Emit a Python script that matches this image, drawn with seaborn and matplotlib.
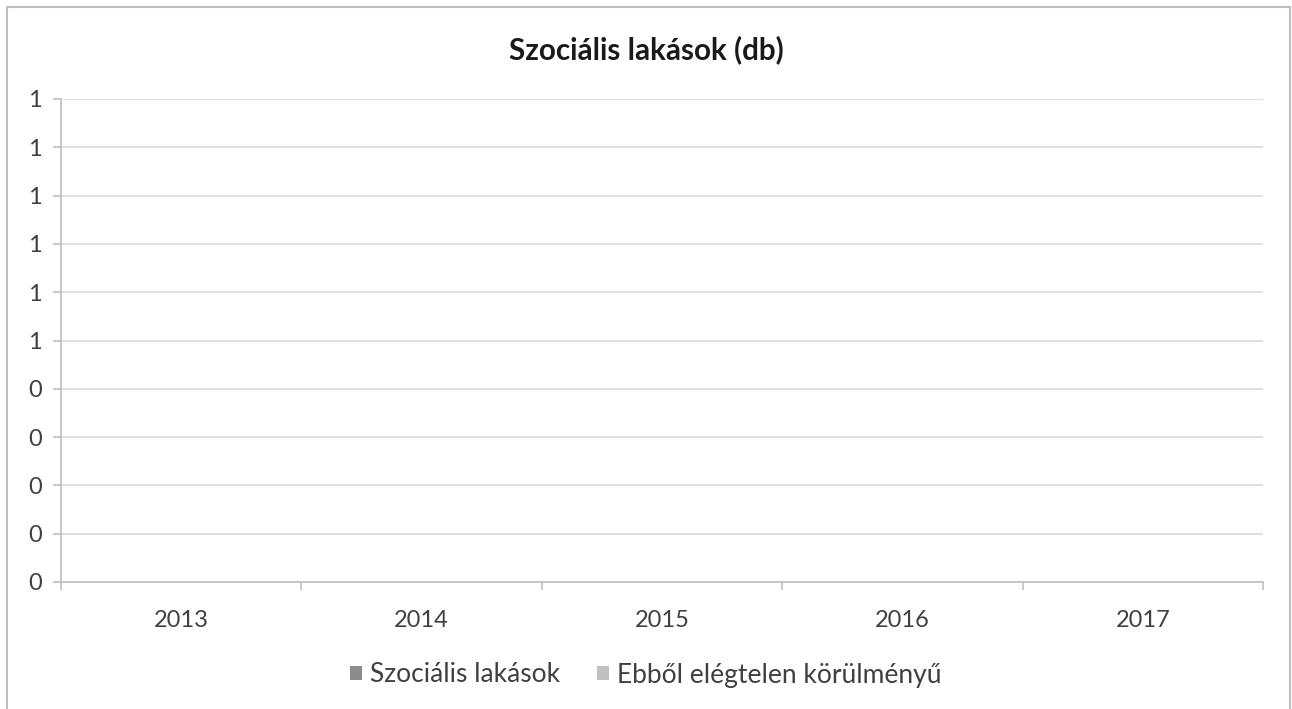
"""Empty Excel-style column chart: Szociális lakások (db)."""

import matplotlib.pyplot as plt
import numpy as np
import pandas as pd
import seaborn as sns
from matplotlib.patches import Rectangle
from matplotlib.ticker import FixedLocator, FuncFormatter

YEARS = ["2013", "2014", "2015", "2016", "2017"]
SERIES = ["Szociális lakások", "Ebből elégtelen körülményű"]
SOCIAL_FLATS = [0, 0, 0, 0, 0]
POOR_CONDITION = [0, 0, 0, 0, 0]
Y_TICKS = [0.0, 0.1, 0.2, 0.3, 0.4, 0.5, 0.6, 0.7, 0.8, 0.9, 1.0]

COLORS = {SERIES[0]: "#8c8c8c", SERIES[1]: "#c0c0c0"}
TEXT = "#404040"


def excel_round(v, _pos=None):
    return f"{int(np.floor(v + 0.5 + 1e-9))}"


def main() -> None:
    df = pd.DataFrame(
        {
            "year": YEARS * 2,
            "series": [SERIES[0]] * len(YEARS) + [SERIES[1]] * len(YEARS),
            "value": SOCIAL_FLATS + POOR_CONDITION,
        }
    )

    sns.set_theme(style="white")
    plt.rcParams["font.family"] = ["Lato", "DejaVu Sans"]

    fig = plt.figure(figsize=(12.92, 7.09), dpi=100)
    ax = fig.add_axes([61 / 1292, 1 - 582 / 709, (1263 - 61) / 1292, (582 - 99) / 709])

    sns.barplot(
        data=df, x="year", y="value", hue="series", palette=COLORS,
        linewidth=0, ax=ax, legend=True,
    )

    ax.set_xlim(-0.5, len(YEARS) - 0.5)
    ax.set_ylim(0, 1)
    ax.yaxis.set_major_locator(FixedLocator(Y_TICKS))
    ax.yaxis.set_major_formatter(FuncFormatter(excel_round))
    ax.grid(axis="y", color="#d9d9d9", linewidth=1.2)
    ax.set_axisbelow(True)

    for side in ["top", "right"]:
        ax.spines[side].set_visible(False)
    for side in ["left", "bottom"]:
        ax.spines[side].set_color("#bfbfbf")
        ax.spines[side].set_linewidth(1.2)

    ax.set_xticks(np.arange(-0.5, len(YEARS)), minor=True)
    ax.tick_params(axis="x", which="major", length=0, pad=20, labelsize=17, labelcolor=TEXT)
    ax.tick_params(axis="x", which="minor", length=6, width=1.2, color="#bfbfbf", bottom=True)
    ax.tick_params(axis="y", length=6, width=1.2, color="#bfbfbf", left=True,
                   pad=8, labelsize=17, labelcolor=TEXT)
    ax.set_xlabel("")
    ax.set_ylabel("")

    fig.text(0.5, 1 - 50 / 709, "Szociális lakások (db)", ha="center", va="center",
             fontsize=21.3, fontweight="bold", color="#1a1a1a")

    ax.legend(
        loc="center", bbox_to_anchor=(0.5, 1 - 675 / 709), bbox_transform=fig.transFigure,
        ncol=2, frameon=False, fontsize=19, handlelength=0.45, handleheight=0.45,
        handletextpad=0.3, columnspacing=1.4, labelcolor=TEXT,
    )

    fig.add_artist(Rectangle((7 / 1292, -0.02), (1290 - 7) / 1292, 1 - 7 / 709 + 0.02,
                             transform=fig.transFigure, fill=False,
                             edgecolor="#bfbfbf", linewidth=1.5))

    fig.savefig("out.png", dpi=100)
    plt.close(fig)


if __name__ == "__main__":
    main()
